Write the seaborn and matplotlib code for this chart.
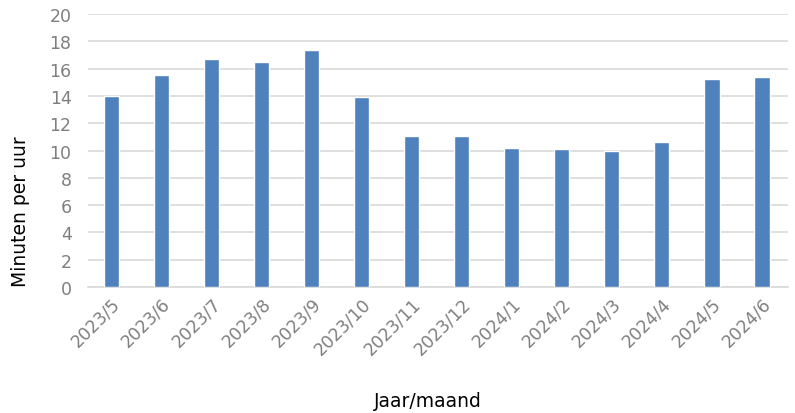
import pandas as pd
import matplotlib
matplotlib.use("Agg")
import matplotlib.pyplot as plt
import seaborn as sns

months = ["2023/5", "2023/6", "2023/7", "2023/8", "2023/9", "2023/10", "2023/11",
          "2023/12", "2024/1", "2024/2", "2024/3", "2024/4", "2024/5", "2024/6"]
minutes = [14.0, 15.5, 16.7, 16.5, 17.35, 13.95, 11.05, 11.05, 10.2, 10.1, 9.95, 10.6, 15.25, 15.4]

df = pd.DataFrame({"maand": months, "minuten": minutes})

sns.set_style("white")
plt.rcParams["font.family"] = ["DejaVu Sans"]

fig = plt.figure(figsize=(7.95, 4.14), dpi=100)
ax = fig.add_axes([0.111, 0.304, 0.88, 0.66])

sns.barplot(data=df, x="maand", y="minuten", color="#4F81BD", width=0.31,
            saturation=1, ax=ax, zorder=3)

ax.set_ylim(0, 20)
ax.set_yticks(range(0, 21, 2))
ax.set_xlim(-0.46, 13.52)
ax.yaxis.grid(True, color="#D9D9D9", linewidth=1.2, zorder=0)
ax.set_axisbelow(True)
for s in ["top", "right", "left"]:
    ax.spines[s].set_visible(False)
ax.spines["bottom"].set_color("#D9D9D9")
ax.spines["bottom"].set_linewidth(1.2)

ax.tick_params(axis="both", length=0, labelsize=12.5, labelcolor="#7F7F7F")
ax.tick_params(axis="y", pad=12)
ax.tick_params(axis="x", pad=5)
plt.setp(ax.get_xticklabels(), rotation=45, ha="right", rotation_mode="anchor")

ax.set_ylabel("Minuten per uur", fontsize=13.5, color="black")
ax.yaxis.set_label_coords(-0.083, 0.28)
ax.set_xlabel("Jaar/maand", fontsize=13.5, color="black")
ax.xaxis.set_label_coords(0.486, -0.38)

fig.savefig("out.png", dpi=100)
